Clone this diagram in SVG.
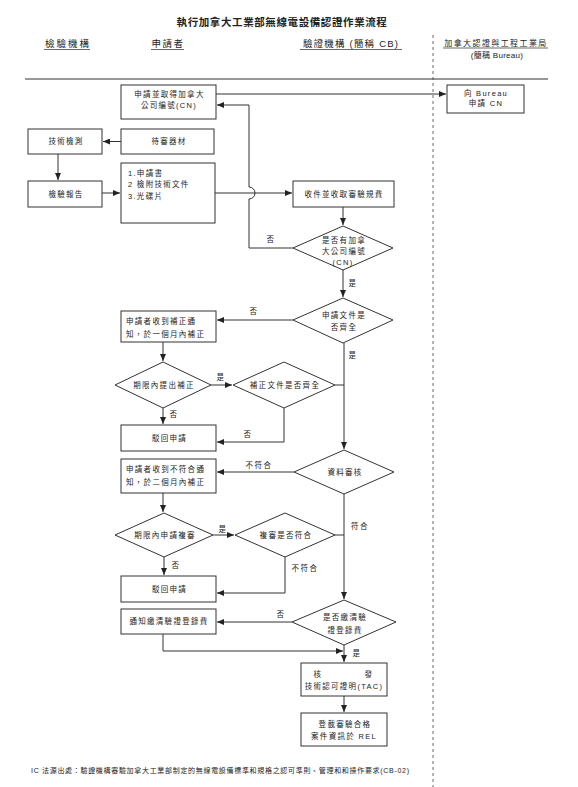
<svg xmlns="http://www.w3.org/2000/svg" width="578" height="787" viewBox="0 0 578 787">
<style>
.bx{fill:#fff;stroke:#333;stroke-width:1}
.dm{fill:#fff;stroke:#333;stroke-width:1}
text{font-family:"Liberation Sans","Noto Sans CJK TC",sans-serif;fill:#222}
.t{font-size:7.5px;letter-spacing:1.3px;text-anchor:middle;dominant-baseline:central}
.tl{font-size:7.5px;letter-spacing:1.3px;dominant-baseline:central}
.lb{font-size:7.5px;letter-spacing:1.5px;text-anchor:middle;dominant-baseline:central}
.h{font-size:9.5px;text-anchor:middle}
.c{fill:none;stroke:#333;stroke-width:1}
.u{stroke:#444;stroke-width:0.8}
</style>
<defs>
<marker id="ar" markerUnits="userSpaceOnUse" markerWidth="7" markerHeight="6" refX="7" refY="3" orient="auto">
<path d="M0,0 L7,3 L0,6 z" fill="#222"/>
</marker>
</defs>
<rect width="578" height="787" fill="#fff"/>

<g id="header">
<text x="282" y="26" font-size="10.5" font-weight="bold" text-anchor="middle" letter-spacing="0.6">執行加拿大工業部無線電設備認證作業流程</text>
<text class="h" x="68" y="47" letter-spacing="2">檢驗機構</text>
<line class="u" x1="44" y1="49.5" x2="90" y2="49.5"/>
<text class="h" x="168" y="47" letter-spacing="1.5">申請者</text>
<line class="u" x1="151" y1="49.5" x2="184" y2="49.5"/>
<text class="h" x="351" y="47" letter-spacing="1.2">驗證機構 (簡稱 CB)</text>
<line class="u" x1="300" y1="49.5" x2="402" y2="49.5"/>
<text x="496" y="45.5" font-size="8" letter-spacing="1.4" text-anchor="middle">加拿大認證與工程工業局</text>
<line class="u" x1="443" y1="48" x2="548" y2="48"/>
<text x="497" y="58" font-size="8" letter-spacing="0.3" text-anchor="middle">(簡稱 Bureau)</text>
<line x1="25" y1="79" x2="548" y2="79" stroke="#333" stroke-width="1"/>
<line x1="433" y1="35" x2="433" y2="787" stroke="#444" stroke-width="0.8" stroke-dasharray="3,3"/>
</g>

<g id="connectors">
<path class="c" d="M216,94 H446" marker-end="url(#ar)"/>
<path class="c" d="M293,248 H249 V199 A6,6 0 0 0 249,187 V105 H217" marker-end="url(#ar)"/>
<path class="c" d="M121,141.5 H103" marker-end="url(#ar)"/>
<path class="c" d="M58,154 V180" marker-end="url(#ar)"/>
<path class="c" d="M102,193 H120" marker-end="url(#ar)"/>
<path class="c" d="M215,193 H292" marker-end="url(#ar)"/>
<path class="c" d="M343,207 V225" marker-end="url(#ar)"/>
<path class="c" d="M343,270 V297" marker-end="url(#ar)"/>
<path class="c" d="M293,320 H217" marker-end="url(#ar)"/>
<path class="c" d="M163,342 V361" marker-end="url(#ar)"/>
<path class="c" d="M211,385 H232" marker-end="url(#ar)"/>
<path class="c" d="M163,408 V424" marker-end="url(#ar)"/>
<path class="c" d="M284,408 V442 H217" marker-end="url(#ar)"/>
<path class="c" d="M335,385 H344"/>
<path class="c" d="M344,343 V449" marker-end="url(#ar)"/>
<path class="c" d="M294,472 H217" marker-end="url(#ar)"/>
<path class="c" d="M163,493 V512" marker-end="url(#ar)"/>
<path class="c" d="M213,535 H234" marker-end="url(#ar)"/>
<path class="c" d="M164,557 V575" marker-end="url(#ar)"/>
<path class="c" d="M285,557 V593 H217" marker-end="url(#ar)"/>
<path class="c" d="M335,535 H344"/>
<path class="c" d="M344,494 V599" marker-end="url(#ar)"/>
<path class="c" d="M292,622 H217" marker-end="url(#ar)"/>
<path class="c" d="M163,634 V651 H343" marker-end="url(#ar)"/>
<path class="c" d="M344,645 V662" marker-end="url(#ar)"/>
<path class="c" d="M344,696 V712" marker-end="url(#ar)"/>
<text class="lb" x="271" y="239">否</text>
<text class="lb" x="353" y="283">是</text>
<text class="lb" x="254" y="311">否</text>
<text class="lb" x="353" y="355">是</text>
<text class="lb" x="221" y="377">是</text>
<text class="lb" x="174" y="414">否</text>
<text class="lb" x="248" y="434">否</text>
<text class="lb" x="259" y="465">不符合</text>
<text class="lb" x="223" y="529">是</text>
<text class="lb" x="360" y="526">符合</text>
<text class="lb" x="176" y="565">否</text>
<text class="lb" x="305" y="568">不符合</text>
<text class="lb" x="281" y="614">否</text>
<text class="lb" x="357" y="653">是</text>
</g>

<g id="n-cn"><rect class="bx" x="121" y="85" width="95" height="34"/>
<text class="t" x="169.5" y="94.5" letter-spacing="1.7">申請並取得加拿大</text>
<text class="t" x="169" y="105.5">公司編號(CN)</text></g>

<g id="n-bureau"><rect class="bx" x="447" y="85" width="77" height="28"/>
<text class="t" x="486" y="93.5" letter-spacing="0.4">向 Bureau</text>
<text class="t" x="486" y="103" letter-spacing="0.8">申請 CN</text></g>

<g id="n-dut"><rect class="bx" x="121" y="129" width="93" height="25"/>
<text class="t" x="169" y="141.5" letter-spacing="3">待審器材</text></g>

<g id="n-test"><rect class="bx" x="28" y="129" width="74" height="25"/>
<text class="t" x="66" y="141.5" letter-spacing="2.2">技術檢測</text></g>

<g id="n-report"><rect class="bx" x="28" y="181" width="74" height="26"/>
<text class="t" x="66" y="194" letter-spacing="2.2">檢驗報告</text></g>

<g id="n-docs"><rect class="bx" x="121" y="163" width="94" height="60"/>
<text class="tl" x="128" y="173">1.申請書</text>
<text class="tl" x="128" y="184.5">2 檢附技術文件</text>
<text class="tl" x="128" y="196">3.光碟片</text></g>

<g id="n-recv"><rect class="bx" x="293" y="181" width="101" height="26"/>
<text class="t" x="344" y="194">收件並收取審驗規費</text></g>

<g id="d-cn"><polygon class="dm" points="343,226 393,248 343,270 293,248"/>
<text class="t" x="344" y="240" letter-spacing="1.8">是否有加拿</text>
<text class="t" x="344" y="251" letter-spacing="1.8">大公司編號</text>
<text class="t" x="343" y="262" font-size="8.5" letter-spacing="0">(CN)</text></g>

<g id="d-docs"><polygon class="dm" points="343,298 393,320 343,343 293,320"/>
<text class="t" x="344" y="315" letter-spacing="1.8">申請文件是</text>
<text class="t" x="344" y="327" letter-spacing="1.8">否齊全</text></g>

<g id="n-fix1"><rect class="bx" x="121" y="311" width="95" height="31"/>
<text class="tl" x="126" y="321">申請者收到補正通</text>
<text class="tl" x="126" y="334">知，於一個月內補正</text></g>

<g id="d-fix1"><polygon class="dm" points="163,362 211,385 163,408 115,385"/>
<text class="t" x="164" y="385" letter-spacing="1.5">期限內提出補正</text></g>

<g id="d-fix1chk"><polygon class="dm" points="284,362 335,385 284,408 233,385"/>
<text class="t" x="285" y="385" letter-spacing="1.2">補正文件是否齊全</text></g>

<g id="n-rej1"><rect class="bx" x="121" y="425" width="95" height="26"/>
<text class="t" x="169.5" y="438" letter-spacing="2">駁回申請</text></g>

<g id="d-review"><polygon class="dm" points="344,450 394,472 344,494 294,472"/>
<text class="t" x="345" y="472" letter-spacing="2">資料審核</text></g>

<g id="n-fix2"><rect class="bx" x="121" y="459" width="95" height="34"/>
<text class="tl" x="126" y="469" letter-spacing="0.8">申請者收到不符合通</text>
<text class="tl" x="126" y="482" letter-spacing="0.8">知，於二個月內補正</text></g>

<g id="d-appeal"><polygon class="dm" points="164,513 213,535 164,557 115,535"/>
<text class="t" x="165" y="535" letter-spacing="1.5">期限內申請複審</text></g>

<g id="d-appealchk"><polygon class="dm" points="285,513 335,535 285,557 235,535"/>
<text class="t" x="286" y="535" letter-spacing="1.8">複審是否符合</text></g>

<g id="n-rej2"><rect class="bx" x="121" y="576" width="95" height="26"/>
<text class="t" x="169.5" y="589" letter-spacing="2">駁回申請</text></g>

<g id="d-fee"><polygon class="dm" points="344,600 396,622 344,645 292,622"/>
<text class="t" x="345" y="617" letter-spacing="1.8">是否繳清驗</text>
<text class="t" x="345" y="630" letter-spacing="1.8">證登錄費</text></g>

<g id="n-notify"><rect class="bx" x="121" y="609" width="95" height="25"/>
<text class="t" x="169" y="621.5" letter-spacing="1">通知繳清驗證登錄費</text></g>

<g id="n-tac"><rect class="bx" x="301" y="663" width="86" height="33"/>
<text class="t" y="674"><tspan x="318">核</tspan><tspan x="369">發</tspan></text>
<text class="t" x="344" y="686" letter-spacing="0.5">技術認可證明(TAC)</text></g>

<g id="n-rel"><rect class="bx" x="301" y="713" width="86" height="33"/>
<text class="t" x="345" y="724" letter-spacing="1.8">登載審驗合格</text>
<text class="t" x="344" y="736" letter-spacing="1">案件資訊於 REL</text></g>

<g id="footer">
<text x="31" y="773" font-size="7" textLength="378" lengthAdjust="spacing">IC 法源出處：驗證機構審驗加拿大工業部制定的無線電設備標準和規格之認可準則、管理和和操作要求(CB-02)</text>
</g>
</svg>
